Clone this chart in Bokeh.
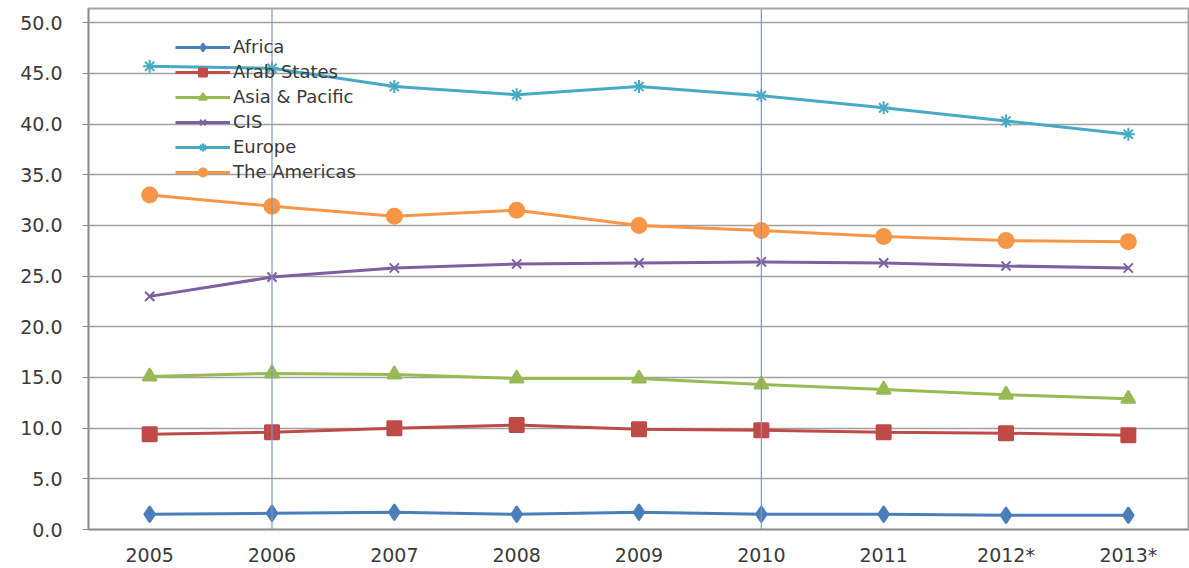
from bokeh.plotting import figure
from bokeh.models import FactorRange, Range1d, FixedTicker, Span, Legend, NumeralTickFormatter
from bokeh.embed import file_html
from bokeh.resources import INLINE

years = ["2005", "2006", "2007", "2008", "2009", "2010", "2011", "2012*", "2013*"]
africa = [1.5, 1.6, 1.7, 1.5, 1.7, 1.5, 1.5, 1.4, 1.4]
arab_states = [9.4, 9.6, 10.0, 10.3, 9.9, 9.8, 9.6, 9.5, 9.3]
asia_pacific = [15.1, 15.4, 15.3, 14.9, 14.9, 14.3, 13.8, 13.3, 12.9]
cis = [23.0, 24.9, 25.8, 26.2, 26.3, 26.4, 26.3, 26.0, 25.8]
europe = [45.7, 45.5, 43.7, 42.9, 43.7, 42.8, 41.6, 40.3, 39.0]
americas = [33.0, 31.9, 30.9, 31.5, 30.0, 29.5, 28.9, 28.5, 28.4]
y_ticks = [0, 5, 10, 15, 20, 25, 30, 35, 40, 45, 50]
marked_years = ["2006", "2010"]

series = [
    ("Africa", africa, "#4A7EBB", "diamond", 16),
    ("Arab States", arab_states, "#BE4B48", "square", 14),
    ("Asia & Pacific", asia_pacific, "#98B954", "triangle", 14),
    ("CIS", cis, "#7D60A0", "x", 13),
    ("Europe", europe, "#46AAC5", "asterisk", 13),
    ("The Americas", americas, "#F79646", "circle", 15),
]

FONT = "DejaVu Sans"

p = figure(width=1189, height=568, x_range=FactorRange(*years),
           y_range=Range1d(0, 51.4), output_backend="svg", toolbar_location=None,
           min_border_left=88, min_border_right=0, min_border_top=8, min_border_bottom=38)

p.background_fill_color = "white"
p.border_fill_color = "white"
p.outline_line_color = "#A6A6A6"
p.outline_line_width = 2

p.xgrid.grid_line_color = None
p.ygrid.grid_line_color = "#A0A0A0"
p.ygrid.grid_line_width = 1.5
p.yaxis.ticker = FixedTicker(ticks=y_ticks)
p.yaxis.formatter = NumeralTickFormatter(format="0.0")

for ax in (p.xaxis[0], p.yaxis[0]):
    ax.axis_line_color = "#8C8C8C"
    ax.axis_line_width = 1.5
    ax.major_label_text_font = FONT
    ax.major_label_text_font_size = "19px"
    ax.major_label_text_color = "#3A3A3A"
    ax.minor_tick_line_color = None
p.yaxis.major_tick_line_color = "#8C8C8C"
p.yaxis.major_tick_in = 0
p.yaxis.major_tick_out = 6
p.yaxis.major_label_standoff = 20
p.xaxis.major_tick_line_color = None
p.xaxis.major_label_standoff = 8

for yr in marked_years:
    p.add_layout(Span(location=years.index(yr) + 0.5, dimension="height",
                      line_color="#8096C8", line_width=1.2))

items = []
for name, vals, color, marker, size in series:
    r1 = p.line(years, vals, line_color=color, line_width=3)
    r2 = p.scatter(years, vals, marker=marker, size=size, fill_color=color,
                   line_color=color, line_width=2)
    items.append((name, [r1, r2]))

legend = Legend(items=items, location=(87, 347))
legend.background_fill_alpha = 0
legend.border_line_color = None
legend.label_text_font = FONT
legend.label_text_font_size = "18px"
legend.label_text_color = "#3A3A3A"
legend.glyph_width = 55
legend.glyph_height = 20
legend.label_height = 20
legend.spacing = 4
legend.padding = 0
legend.margin = 0
legend.label_standoff = 3
p.add_layout(legend)

open("out.html", "w").write(file_html(p, INLINE))
